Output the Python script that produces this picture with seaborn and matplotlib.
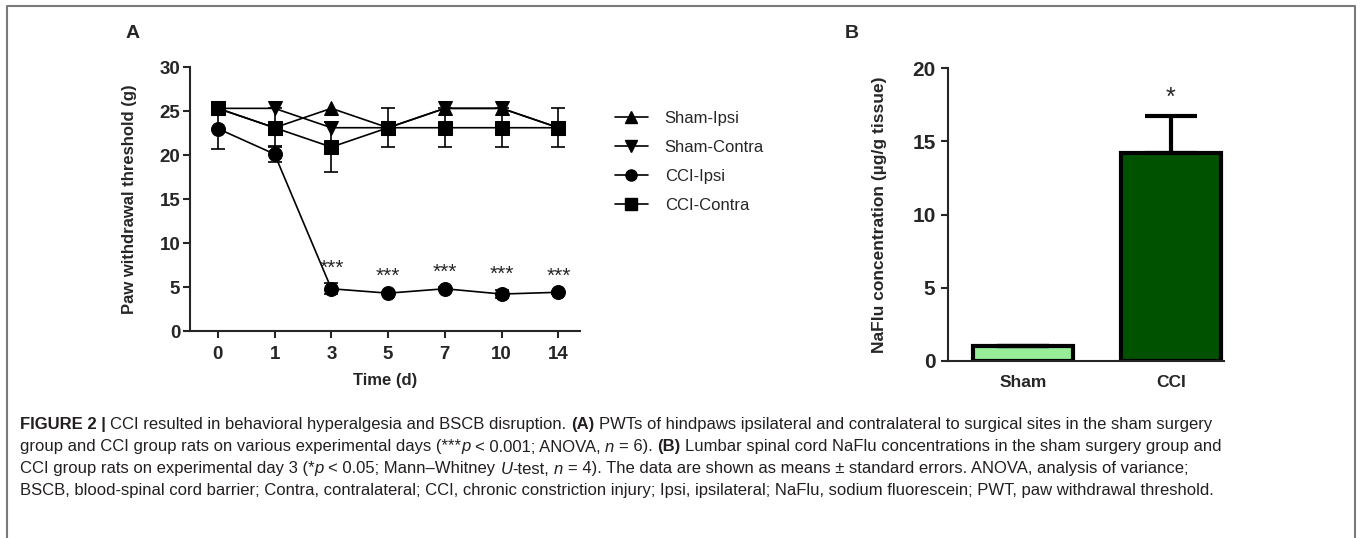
import matplotlib
matplotlib.use("Agg")
import matplotlib.pyplot as plt
from matplotlib.lines import Line2D
import numpy as np
import pandas as pd
import seaborn as sns

# --- data ---
days = ["0", "1", "3", "5", "7", "10", "14"]
groups = ["Sham-Ipsi", "Sham-Contra", "CCI-Ipsi", "CCI-Contra"]
sham_ipsi = [25.3, 23.1, 25.3, 23.1, 25.3, 25.3, 23.1]
sham_contra = [25.3, 25.3, 23.1, 23.1, 25.3, 25.3, 23.1]
cci_ipsi = [23.0, 20.1, 4.8, 4.3, 4.8, 4.2, 4.4]
cci_contra = [25.3, 23.1, 20.9, 23.1, 23.1, 23.1, 23.1]
sham_ipsi_err = [0, 0, 0, 0, 0, 0, 0]
sham_contra_err = [0, 0, 0, 0, 0, 0, 0]
cci_ipsi_err = [2.3, 0.9, 0.6, 0.15, 0.15, 0.5, 0.15]
cci_contra_err = [0, 2.2, 2.8, 2.2, 2.2, 2.2, 2.2]
star_days = ["3", "5", "7", "10", "14"]

bar_groups = ["Sham", "CCI"]
bar_values = [1.0, 14.2]
bar_err = [0.05, 2.5]
bar_colors = ["#98ee98", "#005200"]

sns.set_theme(style="ticks")
plt.rcParams["font.family"] = ["Liberation Sans", "DejaVu Sans"]
plt.rcParams["axes.linewidth"] = 1.5

W, H = 1360, 538
fig = plt.figure(figsize=(W / 100, H / 100), dpi=100)


def px_axes(x0, y0, x1, y1):
    # pixel box (top-left origin) -> figure fractions
    return fig.add_axes([x0 / W, 1 - y1 / H, (x1 - x0) / W, (y1 - y0) / H])


# ---------------- Panel A ----------------
axA = px_axes(190, 67, 580, 331)
series = [
    (sham_ipsi, sham_ipsi_err, "^"),
    (sham_contra, sham_contra_err, "v"),
    (cci_ipsi, cci_ipsi_err, "o"),
    (cci_contra, cci_contra_err, "s"),
]
pos = np.arange(len(days))
for name, (vals, errs, mk) in zip(groups, series):
    df = pd.DataFrame({"pos": pos, "val": vals})
    sns.lineplot(data=df, x="pos", y="val", ax=axA, color="black", lw=1.2,
                 marker=mk, markersize=10, markeredgecolor="black", label=name,
                 legend=False)
    e = np.array(errs)
    m = e > 0
    axA.errorbar(pos[m], np.array(vals)[m], yerr=e[m], fmt="none", ecolor="black",
                 elinewidth=1.2, capsize=5, capthick=1.2)

for d in star_days:
    i = days.index(d)
    axA.annotate("***", (i, cci_ipsi[i] + cci_ipsi_err[i]), xytext=(0, 4),
                 textcoords="offset points", ha="center", va="bottom", fontsize=15)

axA.set_xlim(-0.49, 6.38)
axA.set_ylim(0, 30)
axA.set_xticks(pos)
axA.set_xticklabels(days)
axA.set_yticks([0, 5, 10, 15, 20, 25, 30])
sns.despine(ax=axA)
axA.tick_params(length=5, width=1.5, labelsize=13.5)
axA.tick_params(axis="x", pad=6)
axA.tick_params(axis="y", pad=2)
for lab in axA.get_xticklabels() + axA.get_yticklabels():
    lab.set_fontweight("bold")
axA.set_xlabel("Time (d)", fontsize=12, fontweight="bold")
axA.set_ylabel("Paw withdrawal threshold (g)", fontsize=12, fontweight="bold")
axA.xaxis.set_label_coords(0.5, -0.16)
axA.yaxis.set_label_coords(-0.135, 0.5)

handles = [Line2D([0], [0], color="black", lw=1.2, marker=mk, markersize=8)
           for _, _, mk in series]
fig.legend(handles, groups, loc="upper left", bbox_to_anchor=(608 / W, 1 - 104 / H),
           frameon=False, fontsize=12, handlelength=2.0, handletextpad=1.0,
           labelspacing=0.85, borderaxespad=0)

# ---------------- Panel B ----------------
axB = px_axes(948, 68, 1224, 361)
bdf = pd.DataFrame({"group": bar_groups, "val": bar_values})
sns.barplot(data=bdf, x="group", y="val", hue="group", palette=bar_colors, ax=axB,
            width=0.68, edgecolor="black", linewidth=3, legend=False, errorbar=None,
            saturation=1)
axB.errorbar([0, 1], bar_values, yerr=[[0, 0], bar_err], fmt="none", ecolor="black",
             elinewidth=3, capsize=19, capthick=3)
axB.annotate("*", (1, bar_values[1] + bar_err[1]), xytext=(0, 5),
             textcoords="offset points", ha="center", va="bottom", fontsize=18)
axB.set_xlim(-0.51, 1.36)
axB.set_ylim(0, 20)
axB.set_yticks([0, 5, 10, 15, 20])
sns.despine(ax=axB)
axB.tick_params(axis="y", length=5, width=1.5, labelsize=15, pad=4)
axB.tick_params(axis="x", length=0, labelsize=12.5, pad=10)
for lab in axB.get_xticklabels() + axB.get_yticklabels():
    lab.set_fontweight("bold")
axB.set_xlabel("")
axB.set_ylabel("NaFlu concentration (µg/g tissue)", fontsize=12.5, fontweight="bold")
axB.yaxis.set_label_coords(-0.221, 0.5)

fig.text(133 / W, 1 - 33 / H, "A", fontsize=14, fontweight="bold", ha="center", va="center")
fig.text(852 / W, 1 - 33 / H, "B", fontsize=14, fontweight="bold", ha="center", va="center")

# ---------------- caption ----------------
cap_font = ["Liberation Sans Narrow", "Liberation Sans", "DejaVu Sans"]
cap_lines = [
    [("FIGURE 2 | ", "bold", "normal"),
     ("CCI resulted in behavioral hyperalgesia and BSCB disruption. ", "normal", "normal"),
     ("(A)", "bold", "normal"),
     (" PWTs of hindpaws ipsilateral and contralateral to surgical sites in the sham surgery", "normal", "normal")],
    [("group and CCI group rats on various experimental days (***", "normal", "normal"),
     ("p", "normal", "italic"), (" < 0.001; ANOVA, ", "normal", "normal"),
     ("n", "normal", "italic"), (" = 6). ", "normal", "normal"),
     ("(B)", "bold", "normal"),
     (" Lumbar spinal cord NaFlu concentrations in the sham surgery group and", "normal", "normal")],
    [("CCI group rats on experimental day 3 (*", "normal", "normal"),
     ("p", "normal", "italic"), (" < 0.05; Mann\u2013Whitney ", "normal", "normal"),
     ("U", "normal", "italic"), ("-test, ", "normal", "normal"),
     ("n", "normal", "italic"),
     (" = 4). The data are shown as means \u00b1 standard errors. ANOVA, analysis of variance;", "normal", "normal")],
    [("BSCB, blood-spinal cord barrier; Contra, contralateral; CCI, chronic constriction injury; "
      "Ipsi, ipsilateral; NaFlu, sodium fluorescein; PWT, paw withdrawal threshold.", "normal", "normal")],
]
cap_size = 11.95
renderer = fig.canvas.get_renderer()


def text_w(s, weight, style):
    t = fig.text(0, 0, s, fontsize=cap_size, family=cap_font, fontweight=weight, fontstyle=style)
    w = t.get_window_extent(renderer).width
    t.remove()
    return w


space_w = text_w("a a", "normal", "normal") - text_w("aa", "normal", "normal")
for li, pieces in enumerate(cap_lines):
    x = 20.0
    y = 425 + li * 22
    for s, weight, style in pieces:
        lead = len(s) - len(s.lstrip(" "))
        trail = len(s) - len(s.rstrip(" "))
        core = s.strip(" ")
        x += lead * space_w
        t = fig.text(x / W, 1 - y / H, core, fontsize=cap_size, family=cap_font,
                     fontweight=weight, fontstyle=style, color="#231f20", va="center")
        x += t.get_window_extent(renderer).width + trail * space_w

# frame around figure (open at the bottom)
fig.add_artist(Line2D([7 / W, 7 / W, 1355 / W, 1355 / W], [0, 1 - 6 / H, 1 - 6 / H, 0],
                      transform=fig.transFigure, color="#7a7a7a", lw=1.5))

fig.savefig("out.png", dpi=100)
